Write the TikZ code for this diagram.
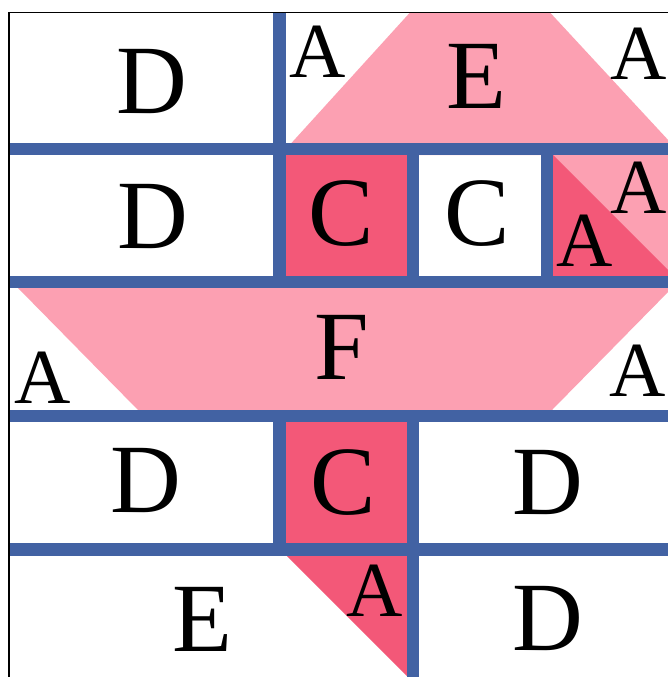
\documentclass[tikz,border=0pt]{standalone}
\usepackage{fontspec}
\setmainfont{Liberation Serif}
\definecolor{qblue}{RGB}{66,98,163}
\definecolor{qlight}{RGB}{252,160,178}
\definecolor{qdark}{RGB}{243,88,120}
\begin{document}
\begin{tikzpicture}[x=1pt,y=-1pt,
  big/.style={font=\fontsize{98}{98}\selectfont, inner sep=0pt},
  small/.style={font=\fontsize{78}{78}\selectfont, inner sep=0pt},
  band/.style={draw=qblue, line width=12.5pt, line cap=butt},
  frame/.style={draw=black, line width=1.5pt}]
\useasboundingbox (0,0) rectangle (668,677);
\clip (0,0) rectangle (668,677);
\fill[white] (0,0) rectangle (668,677);
% patches
\fill[qlight] (286,149) -- (410,12.5) -- (550,12.5) -- (682,155) -- (286,155) -- cycle;
\fill[qdark] (286,155) rectangle (407,276);
\fill[qlight] (553,155) rectangle (680,276);
\fill[qdark] (553,155) -- (674,276) -- (553,276) -- cycle;
\fill[qlight] (18,288) -- (672,288) -- (552,410) -- (138,410) -- cycle;
\fill[qdark] (286,422) rectangle (407,543);
\fill[qdark] (287,556) -- (407,556) -- (407,676) -- cycle;
% blue bands
\draw[band] (9,149) -- (668,149);
\draw[band] (9,282) -- (668,282);
\draw[band] (9,416) -- (668,416);
\draw[band] (9,549.5) -- (668,549.5);
\draw[band] (279.5,12.5) -- (279.5,288);
\draw[band] (279.5,410) -- (279.5,556);
\draw[band] (413,143) -- (413,288);
\draw[band] (413,410) -- (413,677);
\draw[band] (547,143) -- (547,288);
% frame
\draw[frame] (9,677) -- (9,12.5) -- (668,12.5);
% labels
\node[big] (d1) at (152,82) {D};
\node[small] (a1) at (318,52) {A};
\node[big] (e1) at (476,76) {E};
\node[small] (a2) at (639,54) {A};
\node[big] (d2) at (153,217) {D};
\node[big] (c1) at (341,214) {C};
\node[big] (c2) at (477,214) {C};
\node[small] (a3) at (585,241) {A};
\node[small] (a4) at (639,188) {A};
\node[big] (f1) at (342,347) {F};
\node[small] (a5) at (43,378) {A};
\node[small] (a6) at (638,371) {A};
\node[big] (d3) at (146,481) {D};
\node[big] (c3) at (343,483) {C};
\node[big] (d4) at (548,483) {D};
\node[big] (e2) at (202,619) {E};
\node[small] (a7) at (375,591) {A};
\node[big] (d5) at (548,619) {D};
\end{tikzpicture}
\end{document}
